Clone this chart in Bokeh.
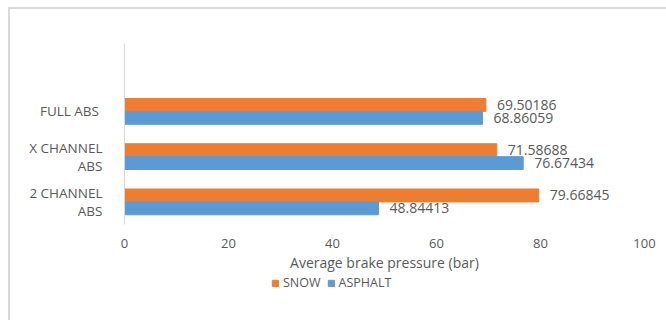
from bokeh.plotting import figure
from bokeh.layouts import column
from bokeh.models import Range1d, FixedTicker, Legend, LegendItem, ColumnDataSource
from bokeh.embed import file_html
from bokeh.resources import INLINE
from bokeh.core.properties import value

categories = ["2 CHANNEL\nABS", "X CHANNEL\nABS", "FULL  ABS"]
snow = [79.66845, 71.58688, 69.50186]
asphalt = [48.84413, 76.67434, 68.86059]
x_ticks = [0, 20, 40, 60, 80, 100]
series_names = ["SNOW", "ASPHALT"]

ORANGE = "#ED7D31"
BLUE = "#5B9BD5"
GREY = "#595959"
FONT = "Open Sans"

centers = [i + 0.5 for i in range(len(categories))]
bar_h = 0.285
off = bar_h / 2

p = figure(width=656, height=265, output_backend="svg", toolbar_location=None,
           x_range=Range1d(0, 100), y_range=Range1d(0, 4),
           min_border_left=114, min_border_right=22, min_border_top=34, min_border_bottom=47)
p.outline_line_color = None
p.grid.grid_line_color = None
p.background_fill_color = "white"

src_s = ColumnDataSource(dict(y=[c + off for c in centers], v=snow, t=[f"{v:.5f}" for v in snow]))
src_a = ColumnDataSource(dict(y=[c - off for c in centers], v=asphalt, t=[f"{v:.5f}" for v in asphalt]))

rs = p.hbar(y="y", right="v", left=0, height=bar_h, source=src_s, color=ORANGE)
ra = p.hbar(y="y", right="v", left=0, height=bar_h, source=src_a, color=BLUE)

for src in (src_s, src_a):
    p.text(x="v", y="y", text="t", source=src, x_offset=11, text_baseline="middle",
           text_align="left", text_font=value(FONT), text_font_size="14px", text_color=GREY)

# x axis
xa = p.xaxis[0]
xa.ticker = FixedTicker(ticks=x_ticks)
xa.axis_line_color = None
xa.major_tick_line_color = None
xa.minor_tick_line_color = None
xa.major_label_standoff = 8
xa.major_label_text_font = FONT
xa.major_label_text_font_size = "13px"
xa.major_label_text_color = GREY
xa.axis_label = "Average brake pressure (bar)"
xa.axis_label_text_font = FONT
xa.axis_label_text_font_size = "14px"
xa.axis_label_text_font_style = "normal"
xa.axis_label_text_color = GREY
xa.axis_label_standoff = 2

# y axis
ya = p.yaxis[0]
ya.ticker = FixedTicker(ticks=centers)
ya.major_label_overrides = {c: lab for c, lab in zip(centers, categories)}
ya.axis_line_color = "#d9d9d9"
ya.major_tick_line_color = None
ya.minor_tick_line_color = None
ya.major_label_standoff = 16
ya.major_label_text_font = FONT
ya.major_label_text_font_size = "13.5px"
ya.major_label_text_color = GREY
ya.major_label_text_line_height = 1.0

# legend strip below the chart (its bars fall below its view; only the legend shows)
lf = figure(width=656, height=46, output_backend="svg", toolbar_location=None,
            x_range=Range1d(0, 100), y_range=Range1d(50, 60),
            x_axis_location=None, y_axis_location=None, min_border=0)
lf.outline_line_color = None
lf.grid.visible = False
ls = lf.hbar(y="y", right="v", left=0, height=bar_h, source=src_s, color=ORANGE)
la = lf.hbar(y="y", right="v", left=0, height=bar_h, source=src_a, color=BLUE)
legend = Legend(items=[LegendItem(label=series_names[0], renderers=[ls]),
                       LegendItem(label=series_names[1], renderers=[la])],
                orientation="horizontal", location=(147, 29),
                glyph_width=8, glyph_height=8, label_height=12,
                label_text_font=FONT, label_text_font_size="12.5px",
                label_text_color=GREY, label_standoff=4, spacing=6,
                padding=0, margin=0, border_line_color=None,
                background_fill_alpha=0)
lf.add_layout(legend, "center")

layout = column(p, lf, spacing=0)
layout.margin = (7, 0, 0, 8)
layout.styles = {"border-top": "2px solid #d9d9d9", "border-left": "2px solid #d9d9d9"}

open("out.html", "w").write(file_html(layout, INLINE))
